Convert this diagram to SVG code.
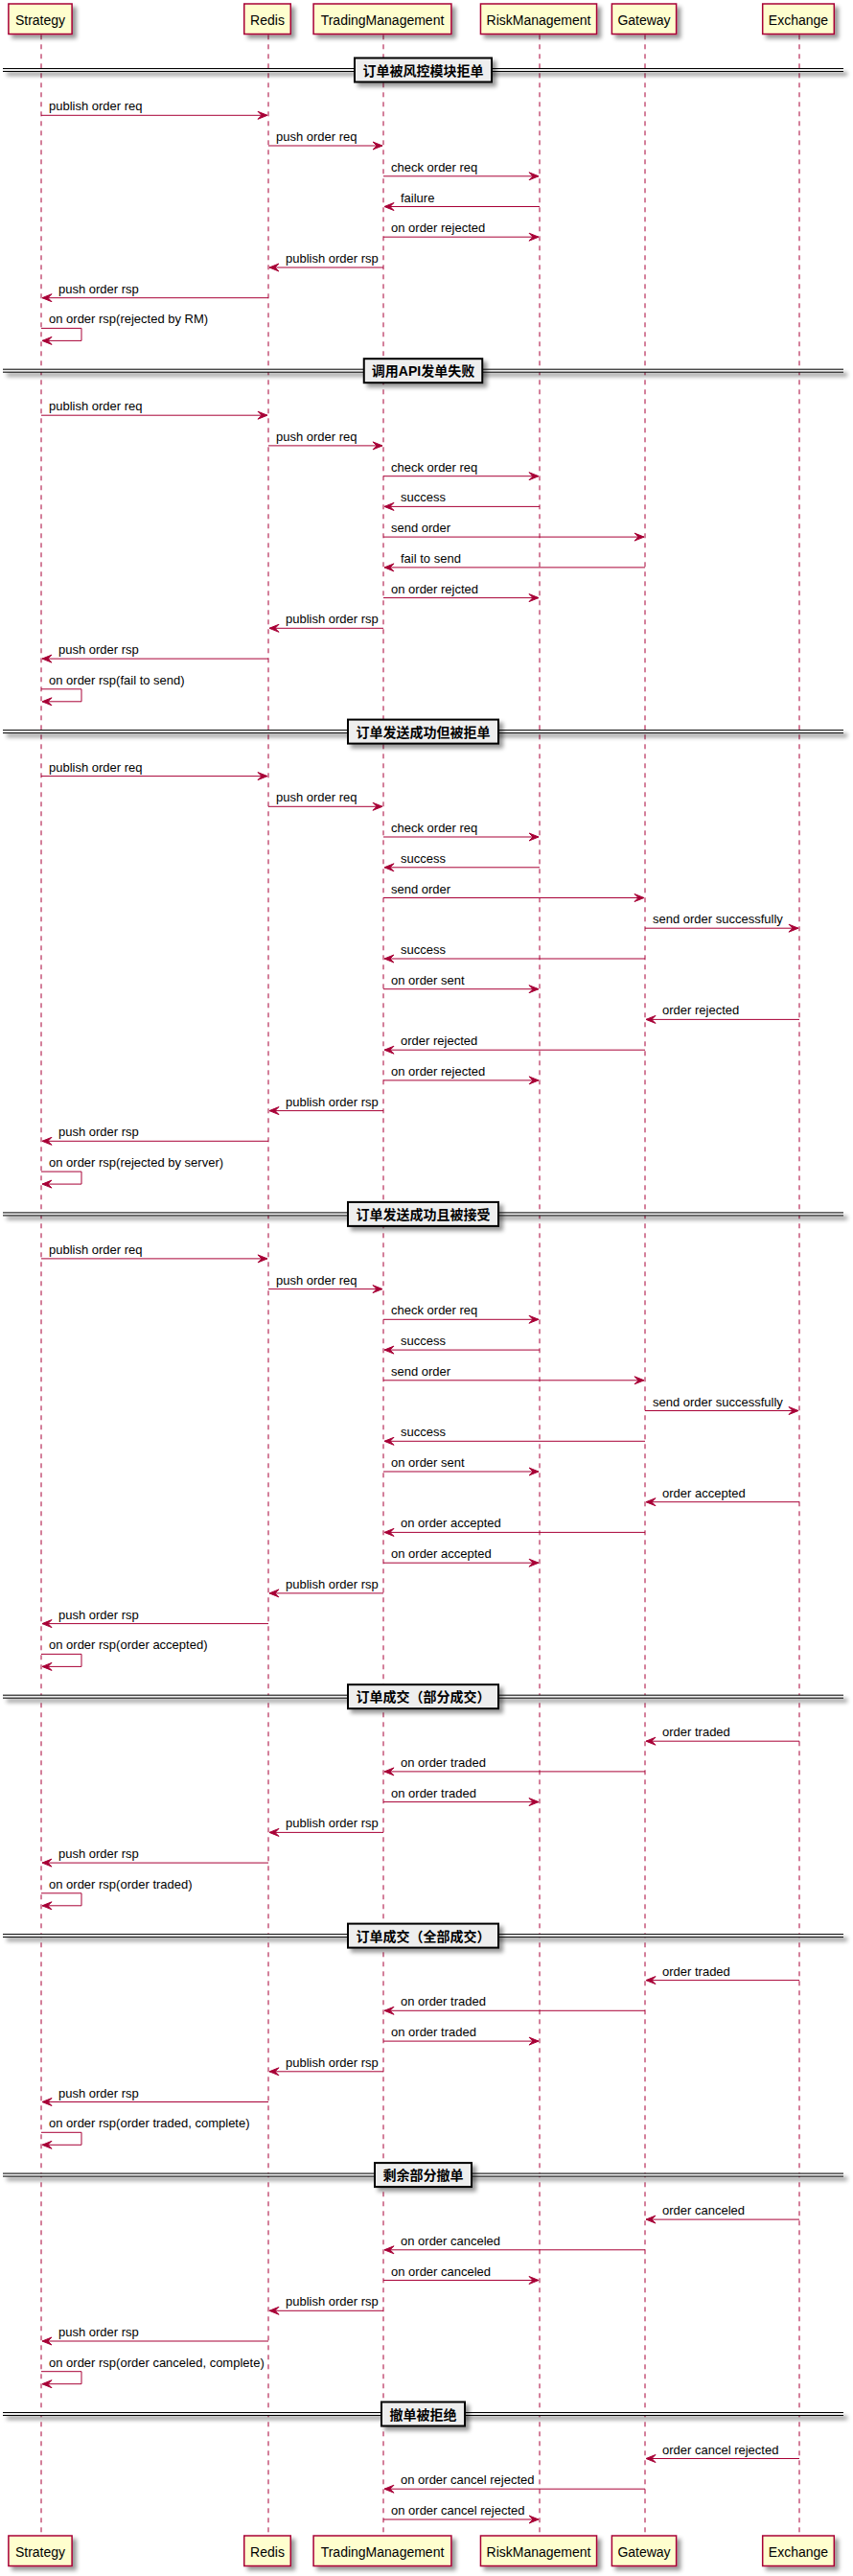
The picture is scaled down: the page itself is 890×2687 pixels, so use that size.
<svg xmlns="http://www.w3.org/2000/svg" width="890" height="2687" viewBox="0 0 890 2687">
<defs>
<style>
.ll{stroke:#A80036;stroke-width:1;stroke-dasharray:5,5;fill:none}
.pb{fill:#FEFECE;stroke:#A80036;stroke-width:1.5}
.pt{font-family:"Liberation Sans",Arial,sans-serif;font-size:14px;fill:#000;text-anchor:middle}
.m{stroke:#A80036;stroke-width:1;fill:none;marker-end:url(#ah)}
.mt{font-family:"Liberation Sans",Arial,sans-serif;font-size:13px;fill:#000}
.dl{stroke:#000;stroke-width:1}
.df{fill:#EEEEEE}
.db{fill:#EEEEEE;stroke:#000;stroke-width:2}
.dt{font-family:"Liberation Sans","Noto Sans CJK SC",sans-serif;font-size:14px;font-weight:bold;text-anchor:middle;fill:#000}
</style>
<marker id="ah" viewBox="0 0 12 10" refX="11" refY="5" markerWidth="12" markerHeight="10" markerUnits="userSpaceOnUse" orient="auto" style="overflow:visible">
<path d="M1,1 L11,5 L1,9 L5,5 Z" fill="#A80036" stroke="#A80036" stroke-width="1"/>
</marker>
<filter id="sh" x="-20%" y="-20%" width="160%" height="160%">
<feGaussianBlur in="SourceAlpha" stdDeviation="2" result="b"/>
<feColorMatrix in="b" type="matrix" values="0 0 0 0 0 0 0 0 0 0 0 0 0 0 0 0 0 0 .4 0" result="b2"/>
<feOffset in="b2" dx="4" dy="4" result="b3"/>
<feMerge><feMergeNode in="b3"/><feMergeNode in="SourceGraphic"/></feMerge>
</filter>
<filter id="shl" x="-2%" y="-300%" width="104%" height="800%">
<feGaussianBlur in="SourceAlpha" stdDeviation="2" result="b"/>
<feColorMatrix in="b" type="matrix" values="0 0 0 0 0 0 0 0 0 0 0 0 0 0 0 0 0 0 .4 0" result="b2"/>
<feOffset in="b2" dx="4" dy="4" result="b3"/>
<feMerge><feMergeNode in="b3"/><feMergeNode in="SourceGraphic"/></feMerge>
</filter>
</defs>
<rect x="0" y="0" width="890" height="2687" fill="#FFFFFF"/>

<g id="Strategy">
<line class="ll" x1="43" y1="36.3" x2="43" y2="2644.3"/>
<rect class="pb" filter="url(#sh)" x="8.9" y="4" width="66.2" height="31.5"/>
<text class="pt" x="42" y="25.5">Strategy</text>
<rect class="pb" filter="url(#sh)" x="8.9" y="2645" width="66.2" height="31.5"/>
<text class="pt" x="42" y="2666.5">Strategy</text>
</g>
<g id="Redis">
<line class="ll" x1="280" y1="36.3" x2="280" y2="2644.3"/>
<rect class="pb" filter="url(#sh)" x="254.75" y="4" width="48.5" height="31.5"/>
<text class="pt" x="279" y="25.5">Redis</text>
<rect class="pb" filter="url(#sh)" x="254.75" y="2645" width="48.5" height="31.5"/>
<text class="pt" x="279" y="2666.5">Redis</text>
</g>
<g id="TradingManagement">
<line class="ll" x1="400" y1="36.3" x2="400" y2="2644.3"/>
<rect class="pb" filter="url(#sh)" x="327.1" y="4" width="143.8" height="31.5"/>
<text class="pt" x="399" y="25.5">TradingManagement</text>
<rect class="pb" filter="url(#sh)" x="327.1" y="2645" width="143.8" height="31.5"/>
<text class="pt" x="399" y="2666.5">TradingManagement</text>
</g>
<g id="RiskManagement">
<line class="ll" x1="563" y1="36.3" x2="563" y2="2644.3"/>
<rect class="pb" filter="url(#sh)" x="501.45" y="4" width="121.1" height="31.5"/>
<text class="pt" x="562" y="25.5">RiskManagement</text>
<rect class="pb" filter="url(#sh)" x="501.45" y="2645" width="121.1" height="31.5"/>
<text class="pt" x="562" y="2666.5">RiskManagement</text>
</g>
<g id="Gateway">
<line class="ll" x1="673" y1="36.3" x2="673" y2="2644.3"/>
<rect class="pb" filter="url(#sh)" x="638.4" y="4" width="67.2" height="31.5"/>
<text class="pt" x="672" y="25.5">Gateway</text>
<rect class="pb" filter="url(#sh)" x="638.4" y="2645" width="67.2" height="31.5"/>
<text class="pt" x="672" y="2666.5">Gateway</text>
</g>
<g id="Exchange">
<line class="ll" x1="834" y1="36.3" x2="834" y2="2644.3"/>
<rect class="pb" filter="url(#sh)" x="795.7" y="4" width="74.6" height="31.5"/>
<text class="pt" x="833" y="25.5">Exchange</text>
<rect class="pb" filter="url(#sh)" x="795.7" y="2645" width="74.6" height="31.5"/>
<text class="pt" x="833" y="2666.5">Exchange</text>
</g>

<g id="div1">
<g filter="url(#shl)"><rect class="df" x="3" y="71.5" width="877" height="3"/><line class="dl" x1="3" y1="71.5" x2="880" y2="71.5"/><line class="dl" x1="3" y1="74.5" x2="880" y2="74.5"/></g>
<rect class="db" filter="url(#sh)" x="370" y="60.5" width="143" height="25"/>
<text class="dt" x="441.5" y="78.5">订单被风控模块拒单</text>
</g>
<g id="div2">
<g filter="url(#shl)"><rect class="df" x="3" y="385.2" width="877" height="3"/><line class="dl" x1="3" y1="385.2" x2="880" y2="385.2"/><line class="dl" x1="3" y1="388.2" x2="880" y2="388.2"/></g>
<rect class="db" filter="url(#sh)" x="379.75" y="374.2" width="123.5" height="25"/>
<text class="dt" x="441.5" y="392.2">调用API发单失败</text>
</g>
<g id="div3">
<g filter="url(#shl)"><rect class="df" x="3" y="761.6" width="877" height="3"/><line class="dl" x1="3" y1="761.6" x2="880" y2="761.6"/><line class="dl" x1="3" y1="764.6" x2="880" y2="764.6"/></g>
<rect class="db" filter="url(#sh)" x="363" y="750.6" width="157" height="25"/>
<text class="dt" x="441.5" y="768.6">订单发送成功但被拒单</text>
</g>
<g id="div4">
<g filter="url(#shl)"><rect class="df" x="3" y="1264.9" width="877" height="3"/><line class="dl" x1="3" y1="1264.9" x2="880" y2="1264.9"/><line class="dl" x1="3" y1="1267.9" x2="880" y2="1267.9"/></g>
<rect class="db" filter="url(#sh)" x="363" y="1253.9" width="157" height="25"/>
<text class="dt" x="441.5" y="1271.9">订单发送成功且被接受</text>
</g>
<g id="div5">
<g filter="url(#shl)"><rect class="df" x="3" y="1768.2" width="877" height="3"/><line class="dl" x1="3" y1="1768.2" x2="880" y2="1768.2"/><line class="dl" x1="3" y1="1771.2" x2="880" y2="1771.2"/></g>
<rect class="db" filter="url(#sh)" x="363" y="1757.2" width="157" height="25"/>
<text class="dt" x="441.5" y="1775.2">订单成交（部分成交）</text>
</g>
<g id="div6">
<g filter="url(#shl)"><rect class="df" x="3" y="2017.6" width="877" height="3"/><line class="dl" x1="3" y1="2017.6" x2="880" y2="2017.6"/><line class="dl" x1="3" y1="2020.6" x2="880" y2="2020.6"/></g>
<rect class="db" filter="url(#sh)" x="363" y="2006.6" width="157" height="25"/>
<text class="dt" x="441.5" y="2024.6">订单成交（全部成交）</text>
</g>
<g id="div7">
<g filter="url(#shl)"><rect class="df" x="3" y="2267.1" width="877" height="3"/><line class="dl" x1="3" y1="2267.1" x2="880" y2="2267.1"/><line class="dl" x1="3" y1="2270.1" x2="880" y2="2270.1"/></g>
<rect class="db" filter="url(#sh)" x="391" y="2256.1" width="101" height="25"/>
<text class="dt" x="441.5" y="2274.1">剩余部分撤单</text>
</g>
<g id="div8">
<g filter="url(#shl)"><rect class="df" x="3" y="2516.5" width="877" height="3"/><line class="dl" x1="3" y1="2516.5" x2="880" y2="2516.5"/><line class="dl" x1="3" y1="2519.5" x2="880" y2="2519.5"/></g>
<rect class="db" filter="url(#sh)" x="398" y="2505.5" width="87" height="25"/>
<text class="dt" x="441.5" y="2523.5">撤单被拒绝</text>
</g>

<g id="connectors">
<!-- section 1 -->
<line class="m" x1="43" y1="120.3" x2="279" y2="120.3"/><text class="mt" x="51" y="115.3">publish order req</text>
<line class="m" x1="280" y1="152" x2="399" y2="152"/><text class="mt" x="288" y="147">push order req</text>
<line class="m" x1="400" y1="183.8" x2="562" y2="183.8"/><text class="mt" x="408" y="178.8">check order req</text>
<line class="m" x1="563" y1="215.5" x2="401" y2="215.5"/><text class="mt" x="418" y="210.5">failure</text>
<line class="m" x1="400" y1="247.2" x2="562" y2="247.2"/><text class="mt" x="408" y="242.2">on order rejected</text>
<line class="m" x1="400" y1="279" x2="281" y2="279"/><text class="mt" x="298" y="274">publish order rsp</text>
<line class="m" x1="280" y1="310.7" x2="44" y2="310.7"/><text class="mt" x="61" y="305.7">push order rsp</text>
<polyline class="m" points="43,342.4 85,342.4 85,355.4 44,355.4"/><text class="mt" x="51" y="337.4">on order rsp(rejected by RM)</text>
<!-- section 2 -->
<line class="m" x1="43" y1="433.2" x2="279" y2="433.2"/><text class="mt" x="51" y="428.2">publish order req</text>
<line class="m" x1="280" y1="464.9" x2="399" y2="464.9"/><text class="mt" x="288" y="459.9">push order req</text>
<line class="m" x1="400" y1="496.7" x2="562" y2="496.7"/><text class="mt" x="408" y="491.7">check order req</text>
<line class="m" x1="563" y1="528.4" x2="401" y2="528.4"/><text class="mt" x="418" y="523.4">success</text>
<line class="m" x1="400" y1="560.1" x2="672" y2="560.1"/><text class="mt" x="408" y="555.1">send order</text>
<line class="m" x1="673" y1="591.9" x2="401" y2="591.9"/><text class="mt" x="418" y="586.9">fail to send</text>
<line class="m" x1="400" y1="623.6" x2="562" y2="623.6"/><text class="mt" x="408" y="618.6">on order rejcted</text>
<line class="m" x1="400" y1="655.3" x2="281" y2="655.3"/><text class="mt" x="298" y="650.3">publish order rsp</text>
<line class="m" x1="280" y1="687.1" x2="44" y2="687.1"/><text class="mt" x="61" y="682.1">push order rsp</text>
<polyline class="m" points="43,718.8 85,718.8 85,731.8 44,731.8"/><text class="mt" x="51" y="713.8">on order rsp(fail to send)</text>
<!-- section 3 -->
<line class="m" x1="43" y1="809.6" x2="279" y2="809.6"/><text class="mt" x="51" y="804.6">publish order req</text>
<line class="m" x1="280" y1="841.3" x2="399" y2="841.3"/><text class="mt" x="288" y="836.3">push order req</text>
<line class="m" x1="400" y1="873" x2="562" y2="873"/><text class="mt" x="408" y="868">check order req</text>
<line class="m" x1="563" y1="904.8" x2="401" y2="904.8"/><text class="mt" x="418" y="899.8">success</text>
<line class="m" x1="400" y1="936.5" x2="672" y2="936.5"/><text class="mt" x="408" y="931.5">send order</text>
<line class="m" x1="673" y1="968.2" x2="833" y2="968.2"/><text class="mt" x="681" y="963.2">send order successfully</text>
<line class="m" x1="673" y1="1000" x2="401" y2="1000"/><text class="mt" x="418" y="995">success</text>
<line class="m" x1="400" y1="1031.7" x2="562" y2="1031.7"/><text class="mt" x="408" y="1026.7">on order sent</text>
<line class="m" x1="834" y1="1063.4" x2="674" y2="1063.4"/><text class="mt" x="691" y="1058.4">order rejected</text>
<line class="m" x1="673" y1="1095.2" x2="401" y2="1095.2"/><text class="mt" x="418" y="1090.2">order rejected</text>
<line class="m" x1="400" y1="1126.9" x2="562" y2="1126.9"/><text class="mt" x="408" y="1121.9">on order rejected</text>
<line class="m" x1="400" y1="1158.6" x2="281" y2="1158.6"/><text class="mt" x="298" y="1153.6">publish order rsp</text>
<line class="m" x1="280" y1="1190.3" x2="44" y2="1190.3"/><text class="mt" x="61" y="1185.3">push order rsp</text>
<polyline class="m" points="43,1222.1 85,1222.1 85,1235.1 44,1235.1"/><text class="mt" x="51" y="1217.1">on order rsp(rejected by server)</text>
<!-- section 4 -->
<line class="m" x1="43" y1="1312.9" x2="279" y2="1312.9"/><text class="mt" x="51" y="1307.9">publish order req</text>
<line class="m" x1="280" y1="1344.6" x2="399" y2="1344.6"/><text class="mt" x="288" y="1339.6">push order req</text>
<line class="m" x1="400" y1="1376.3" x2="562" y2="1376.3"/><text class="mt" x="408" y="1371.3">check order req</text>
<line class="m" x1="563" y1="1408.1" x2="401" y2="1408.1"/><text class="mt" x="418" y="1403.1">success</text>
<line class="m" x1="400" y1="1439.8" x2="672" y2="1439.8"/><text class="mt" x="408" y="1434.8">send order</text>
<line class="m" x1="673" y1="1471.5" x2="833" y2="1471.5"/><text class="mt" x="681" y="1466.5">send order successfully</text>
<line class="m" x1="673" y1="1503.3" x2="401" y2="1503.3"/><text class="mt" x="418" y="1498.3">success</text>
<line class="m" x1="400" y1="1535" x2="562" y2="1535"/><text class="mt" x="408" y="1530">on order sent</text>
<line class="m" x1="834" y1="1566.7" x2="674" y2="1566.7"/><text class="mt" x="691" y="1561.7">order accepted</text>
<line class="m" x1="673" y1="1598.4" x2="401" y2="1598.4"/><text class="mt" x="418" y="1593.4">on order accepted</text>
<line class="m" x1="400" y1="1630.2" x2="562" y2="1630.2"/><text class="mt" x="408" y="1625.2">on order accepted</text>
<line class="m" x1="400" y1="1661.9" x2="281" y2="1661.9"/><text class="mt" x="298" y="1656.9">publish order rsp</text>
<line class="m" x1="280" y1="1693.6" x2="44" y2="1693.6"/><text class="mt" x="61" y="1688.6">push order rsp</text>
<polyline class="m" points="43,1725.4 85,1725.4 85,1738.4 44,1738.4"/><text class="mt" x="51" y="1720.4">on order rsp(order accepted)</text>
<!-- section 5 -->
<line class="m" x1="834" y1="1816.2" x2="674" y2="1816.2"/><text class="mt" x="691" y="1811.2">order traded</text>
<line class="m" x1="673" y1="1847.9" x2="401" y2="1847.9"/><text class="mt" x="418" y="1842.9">on order traded</text>
<line class="m" x1="400" y1="1879.6" x2="562" y2="1879.6"/><text class="mt" x="408" y="1874.6">on order traded</text>
<line class="m" x1="400" y1="1911.4" x2="281" y2="1911.4"/><text class="mt" x="298" y="1906.4">publish order rsp</text>
<line class="m" x1="280" y1="1943.1" x2="44" y2="1943.1"/><text class="mt" x="61" y="1938.1">push order rsp</text>
<polyline class="m" points="43,1974.8 85,1974.8 85,1987.8 44,1987.8"/><text class="mt" x="51" y="1969.8">on order rsp(order traded)</text>
<!-- section 6 -->
<line class="m" x1="834" y1="2065.6" x2="674" y2="2065.6"/><text class="mt" x="691" y="2060.6">order traded</text>
<line class="m" x1="673" y1="2097.3" x2="401" y2="2097.3"/><text class="mt" x="418" y="2092.3">on order traded</text>
<line class="m" x1="400" y1="2129.1" x2="562" y2="2129.1"/><text class="mt" x="408" y="2124.1">on order traded</text>
<line class="m" x1="400" y1="2160.8" x2="281" y2="2160.8"/><text class="mt" x="298" y="2155.8">publish order rsp</text>
<line class="m" x1="280" y1="2192.5" x2="44" y2="2192.5"/><text class="mt" x="61" y="2187.5">push order rsp</text>
<polyline class="m" points="43,2224.3 85,2224.3 85,2237.3 44,2237.3"/><text class="mt" x="51" y="2219.3">on order rsp(order traded, complete)</text>
<!-- section 7 -->
<line class="m" x1="834" y1="2315.1" x2="674" y2="2315.1"/><text class="mt" x="691" y="2310.1">order canceled</text>
<line class="m" x1="673" y1="2346.8" x2="401" y2="2346.8"/><text class="mt" x="418" y="2341.8">on order canceled</text>
<line class="m" x1="400" y1="2378.5" x2="562" y2="2378.5"/><text class="mt" x="408" y="2373.5">on order canceled</text>
<line class="m" x1="400" y1="2410.3" x2="281" y2="2410.3"/><text class="mt" x="298" y="2405.3">publish order rsp</text>
<line class="m" x1="280" y1="2442" x2="44" y2="2442"/><text class="mt" x="61" y="2437">push order rsp</text>
<polyline class="m" points="43,2473.7 85,2473.7 85,2486.7 44,2486.7"/><text class="mt" x="51" y="2468.7">on order rsp(order canceled, complete)</text>
<!-- section 8 -->
<line class="m" x1="834" y1="2564.5" x2="674" y2="2564.5"/><text class="mt" x="691" y="2559.5">order cancel rejected</text>
<line class="m" x1="673" y1="2596.2" x2="401" y2="2596.2"/><text class="mt" x="418" y="2591.2">on order cancel rejected</text>
<line class="m" x1="400" y1="2628" x2="562" y2="2628"/><text class="mt" x="408" y="2623">on order cancel rejected</text>
</g>
</svg>
